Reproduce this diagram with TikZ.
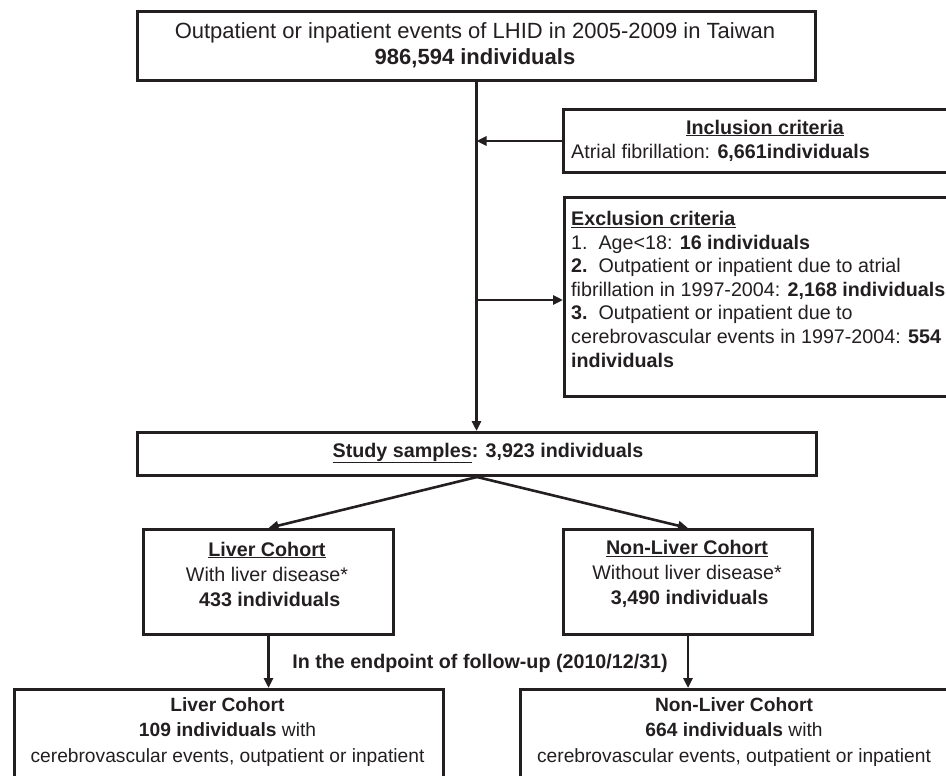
\documentclass[tikz,border=0pt]{standalone}
\usepackage{fontspec}
\setmainfont{Liberation Sans}
\usetikzlibrary{arrows.meta}
\definecolor{ink}{HTML}{231F20}

\begin{document}
\begin{tikzpicture}
  [x=1pt,y=-1pt,
   every node/.style={font=\fontsize{19.7}{25}\selectfont,text=ink,inner sep=0pt},
   frame/.style={draw=ink,line width=3pt,anchor=north west},
   flow/.style={draw=ink,line width=2.6pt,-{Triangle[length=10pt,width=9pt]}}]
  \useasboundingbox (0,0) rectangle (946,776);
  \clip (0,0) rectangle (946,776);

  % boxes
  \node[frame,minimum width=678,minimum height=69]  (top)   at (136,10)  {};
  \node[frame,minimum width=406,minimum height=63]  (incl)  at (562,108) {};
  \node[frame,minimum width=406,minimum height=199] (excl)  at (563,196) {};
  \node[frame,minimum width=679,minimum height=43]  (study) at (136,431) {};
  \node[frame,minimum width=250,minimum height=105] (liver) at (142,528) {};
  \node[frame,minimum width=249,minimum height=105] (nonl)  at (562,528) {};
  \node[frame,minimum width=429,minimum height=120] (endl)  at (13,688)  {};
  \node[frame,minimum width=430,minimum height=120] (endn)  at (519,688) {};

  % texts
  \node[align=center,font=\fontsize{22}{26}\selectfont] (toptxt) at (475,45)
    {Outpatient or inpatient events of LHID in 2005-2009 in Taiwan\\
     \textbf{986,594 individuals}};
  \node (incltitle) at (765,128) {\underline{\textbf{Inclusion criteria}}};
  \node[anchor=west] (incltxt) at (571,153)
    {Atrial fibrillation: \textbf{6,661individuals}};
  \node[anchor=north west,align=left,font=\fontsize{19.7}{23.6}\selectfont]
    (excltxt) at (571,211)
    {\underline{\textbf{Exclusion criteria}}\\
     1.\ \ Age<18: \textbf{16 individuals}\\
     \textbf{2.}\ \ Outpatient or inpatient due to atrial\\
     fibrillation in 1997-2004: \textbf{2,168 individuals}\\
     \textbf{3.}\ \ Outpatient or inpatient due to\\
     cerebrovascular events in 1997-2004: \textbf{554}\\
     \textbf{individuals}};
  \node (studytxt) at (488,453)
    {\textbf{\underline{Study samples}: 3,923 individuals}};
  \node[align=center] (livertxt) at (267,574)
    {\underline{\textbf{Liver Cohort}}\\With liver disease*\\
     \ \textbf{433 individuals}};
  \node[align=center] (nonltxt) at (687,574)
    {\underline{\textbf{Non-Liver Cohort}}\\Without liver disease*\\
     \ \textbf{3,490 individuals}};
  \node (follow) at (480,663)
    {\textbf{In the endpoint of follow-up (2010/12/31)}};
  \node[align=center,font=\fontsize{19.2}{25.5}\selectfont] (endltxt) at (227.5,732)
    {\textbf{Liver Cohort}\\\textbf{109 individuals} with\\
     cerebrovascular events, outpatient or inpatient};
  \node[align=center,font=\fontsize{19.2}{25.5}\selectfont] (endntxt) at (734,732)
    {\textbf{Non-Liver Cohort}\\\textbf{664 individuals} with\\
     cerebrovascular events, outpatient or inpatient};

  % connectors
  \coordinate (exclin) at (563,300);
  \draw[flow] (top.south) -- (top.south |- study.north);
  \draw[flow] (incl.west) -- (incl.west -| top.south);
  \draw[flow] (exclin -| top.south) -- (exclin);
  \foreach \to in {liver,nonl}
    \draw[flow] (study.south) -- (\to.north);
  \draw[flow] (liver.south) -- (liver.south |- endl.north);
  \draw[flow] (nonl.south) -- (nonl.south |- endn.north);

\end{tikzpicture}
\end{document}
